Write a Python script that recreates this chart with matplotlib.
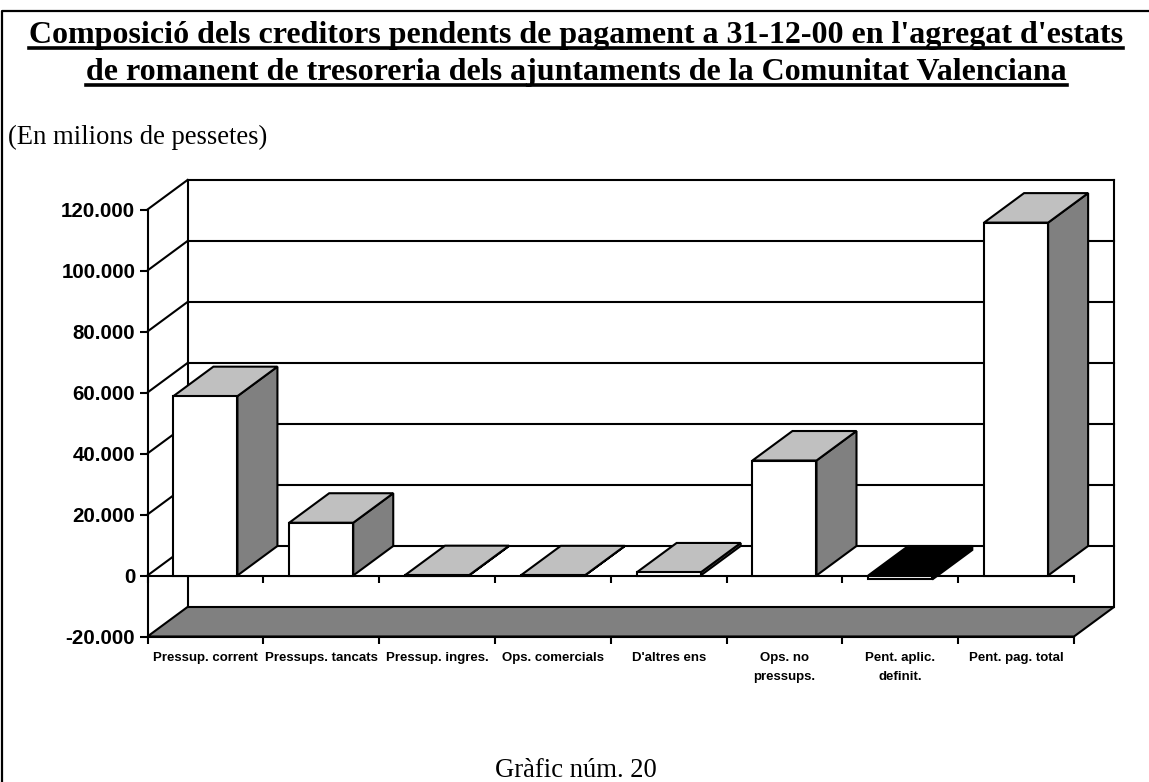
import matplotlib

matplotlib.use("Agg")
import matplotlib.pyplot as plt
import numpy as np
from matplotlib.lines import Line2D
from matplotlib.patches import Polygon
from matplotlib.transforms import Affine2D

W, H = 1149, 782
DEPTH_X, DEPTH_Y = 40, 29.5
BAR_W = 0.553
LW = 1.5

title_lines = [
    "Composició dels creditors pendents de pagament a 31-12-00 en l'agregat d'estats",
    "de romanent de tresoreria dels ajuntaments de la Comunitat Valenciana",
]
subtitle = "(En milions de pessetes)"
caption = "Gràfic núm. 20"
categories = [
    "Pressup. corrent",
    "Pressups. tancats",
    "Pressup. ingres.",
    "Ops. comercials",
    "D'altres ens",
    "Ops. no\npressups.",
    "Pent. aplic.\ndefinit.",
    "Pent. pag. total",
]
values = [58800, 17300, 100, 50, 1000, 37700, -1300, 115700]
y_ticks = [-20000, 0, 20000, 40000, 60000, 80000, 100000, 120000]
y_labels = ["-20.000", "0", "20.000", "40.000", "60.000", "80.000", "100.000", "120.000"]


def px(x, y):
    return x / W, 1 - y / H


fig = plt.figure(figsize=(W / 100, H / 100), dpi=100)
ax = fig.add_axes([147.5 / W, 1 - 636.5 / H, 926.5 / W, 427.0 / H])
ax.set_xlim(0, len(categories))
ax.set_ylim(y_ticks[0], y_ticks[-1])
ax.patch.set_alpha(0)
back = ax.transData + Affine2D().translate(DEPTH_X, DEPTH_Y)


def depth_poly(points, color, z):
    # first two points sit on the front plane, last two on the back one
    a, b = ax.transData.transform(points)
    ax.add_patch(Polygon([a, b, b + (DEPTH_X, DEPTH_Y), a + (DEPTH_X, DEPTH_Y)], closed=True,
                         transform=None, facecolor=color, edgecolor="black", linewidth=LW,
                         zorder=z, clip_on=False))


n = len(categories)
ymin, ymax = y_ticks[0], y_ticks[-1]

# back wall and grid
for t in y_ticks[1:]:
    ax.plot([0, n], [t, t], color="black", lw=LW, transform=back, clip_on=False, zorder=1)
    a = ax.transData.transform((0, t))
    ax.add_line(Line2D([a[0], a[0] + DEPTH_X], [a[1], a[1] + DEPTH_Y], color="black", lw=LW,
                       transform=None, zorder=1, clip_on=False))
for side in (0, n):
    ax.plot([side, side], [ymin, ymax], color="black", lw=LW, transform=back, clip_on=False, zorder=1)

# floor
depth_poly([(0, ymin), (n, ymin)], "#808080", 2)

# zero plane line with its tick marks
tick_pos = np.arange(n + 1)
ax.plot(tick_pos, np.zeros(n + 1), color="black", lw=LW, marker=3, markersize=5,
        markeredgewidth=LW, clip_on=False, zorder=3)

# bars, left to right
for i, v in enumerate(values):
    x0 = i + 0.5 - BAR_W / 2
    x1 = i + 0.5 + BAR_W / 2
    z = 4 + i
    top = max(v, 0)
    top_color = "black" if v < 0 else "#c0c0c0"
    side_color = "black" if v < 0 else "#808080"
    depth_poly([(x1, 0), (x1, v)], side_color, z)
    depth_poly([(x0, top), (x1, top)], top_color, z)
    ax.bar(i + 0.5, v, BAR_W, color="white", edgecolor="black", linewidth=LW, zorder=z, clip_on=False)

# axes
for name, spine in ax.spines.items():
    spine.set_visible(name in ("left", "bottom"))
    spine.set_linewidth(LW)
    spine.set_zorder(3)
ax.set_yticks(y_ticks)
ax.set_yticklabels(y_labels, fontfamily="Liberation Sans", fontweight="bold", fontsize=14.8)
ax.tick_params(axis="y", length=5.8, width=LW, pad=3)
ax.set_xticks(tick_pos)
ax.set_xticklabels([])
ax.tick_params(axis="x", which="major", length=5, width=LW)
ax.set_xticks(tick_pos[:-1] + 0.5, minor=True)
ax.set_xticklabels(categories, minor=True, fontfamily="Liberation Sans", fontweight="bold",
                   fontsize=9.5, linespacing=1.75)
ax.tick_params(axis="x", which="minor", length=0, pad=11)

# frame: only left and top edges
fig.add_artist(Line2D([px(1.5, 0)[0], px(1.5, 0)[0], 1], [0, px(0, 10.5)[1], px(0, 10.5)[1]],
                      color="black", lw=1.6))

# title with underline
fig.canvas.draw()
renderer = fig.canvas.get_renderer()
for line, base in zip(title_lines, (43, 80)):
    t = fig.text(*px(576.3, base), line, family="Liberation Serif", fontweight="bold", fontsize=23,
                 ha="center", va="baseline")
    box = t.get_window_extent(renderer)
    yy = px(0, base + 5)[1]
    fig.add_artist(Line2D([box.x0 / W, box.x1 / W], [yy, yy], color="black", lw=2.6))

fig.text(*px(8, 144), subtitle, family="Liberation Serif", fontsize=19.2, ha="left", va="baseline")
fig.text(*px(576, 777), caption, family="Liberation Serif", fontsize=19.2, ha="center", va="baseline")

fig.savefig("out.png", dpi=100)
